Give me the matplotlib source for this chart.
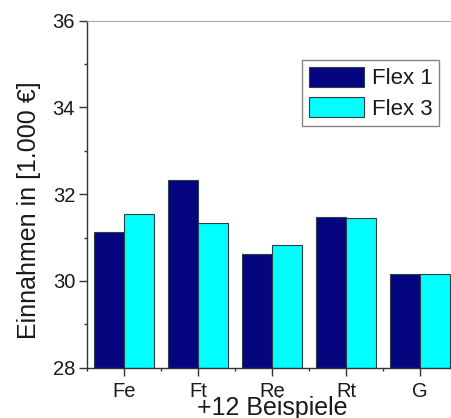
import matplotlib
matplotlib.use("Agg")
import matplotlib.pyplot as plt
from matplotlib.ticker import MultipleLocator
import numpy as np

plt.rcParams['font.family'] = ['Liberation Sans', 'DejaVu Sans']

categories = ["Fe", "Ft", "Re", "Rt", "G"]
flex1 = [31.13, 32.32, 30.62, 31.48, 30.16]
flex3 = [31.54, 31.33, 30.84, 31.45, 30.16]
series_names = ["Flex 1", "Flex 3"]
y_label = "Einnahmen in [1.000 €]"
x_label = "+12 Beispiele"

navy = "#05057f"
cyan = "#00ffff"
edge = "#2b3f46"

fig = plt.figure(figsize=(4.52, 4.18), dpi=100)
ax = fig.add_axes([87 / 452, 50.3 / 418, 370 / 452, 347 / 418])

x = np.arange(len(categories))
w = 0.4
ax.bar(x - w / 2, np.array(flex1) - 28, w, bottom=28, color=navy,
       edgecolor=edge, linewidth=0.8, label=series_names[0])
ax.bar(x + w / 2, np.array(flex3) - 28, w, bottom=28, color=cyan,
       edgecolor=edge, linewidth=0.8, label=series_names[1])

ax.set_xlim(-0.5, len(categories) - 0.5)
ax.set_ylim(28, 36)
ax.set_xticks(x)
ax.set_xticklabels(categories)
ax.xaxis.set_minor_locator(MultipleLocator(0.5))
ax.yaxis.set_major_locator(MultipleLocator(2))
ax.yaxis.set_minor_locator(MultipleLocator(1))

ax.tick_params(axis='both', which='major', direction='out', length=5.5,
               width=1, colors='#333333', labelsize=14.5)
ax.tick_params(axis='y', which='major', pad=3)
ax.tick_params(axis='x', which='major', pad=5)
ax.tick_params(axis='both', which='minor', direction='out', length=2.5,
               width=1, colors='#333333')
ax.tick_params(axis='both', labelcolor='#1a1a1a')

for side in ['left', 'bottom']:
    ax.spines[side].set_color('#333333')
    ax.spines[side].set_linewidth(1.0)
ax.spines['top'].set_color('#aaaaaa')
ax.spines['right'].set_color('#aaaaaa')

ax.set_ylabel(y_label, fontsize=18, color='#1a1a1a')
ax.yaxis.set_label_coords(-0.125, 0.454)
ax.set_xlabel(x_label, fontsize=18, color='#1a1a1a')
ax.xaxis.label.set_va('baseline')
ax.xaxis.set_label_coords(0.5, -(415.5 - 367.7) / 347)

leg = ax.legend(loc='upper left', bbox_to_anchor=(302 / 452, 1 - 60 / 418),
                bbox_transform=fig.transFigure, borderaxespad=0,
                fontsize=16, frameon=True, fancybox=False,
                handlelength=2.5, handleheight=1.0, handletextpad=0.35,
                labelspacing=0.35, borderpad=0.3)
leg.get_frame().set_edgecolor('#666666')
leg.get_frame().set_linewidth(1.0)
for t in leg.get_texts():
    t.set_color('#1a1a1a')

fig.savefig("out.png", dpi=100)
